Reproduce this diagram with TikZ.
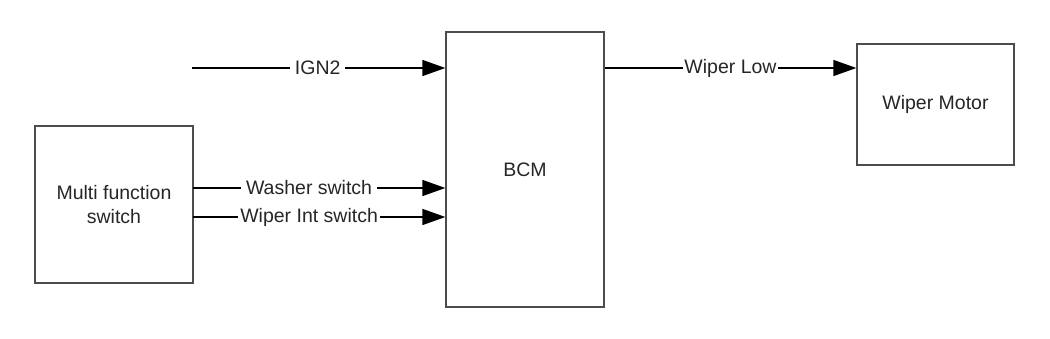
\documentclass[tikz,border=0pt]{standalone}
\usepackage{fontspec}
\setmainfont{Liberation Sans}
\usetikzlibrary{arrows.meta}
\begin{document}
\begin{tikzpicture}[x=1pt,y=-1pt,
  blk/.style={draw=black!70, line width=1.3pt, fill=white, text=black!85, align=center, font=\fontsize{19.5}{24}\selectfont},
  arr/.style={line width=1.5pt, -{Triangle[length=23pt,width=16pt]}},
  lbl/.style={fill=white, text=black!85, inner xsep=5pt, inner ysep=1pt, font=\fontsize{19.5}{24}\selectfont}]
\useasboundingbox (0,0) rectangle (1050,339);
\node[blk, minimum width=158pt, minimum height=157pt] (mfs) at (114,204.5) {Multi function\\switch};
\node[blk, minimum width=158pt, minimum height=275pt] (bcm) at (525,169.5) {BCM};
\node[blk, minimum width=157pt, minimum height=121pt] (wm) at (935.5,104.5) {Wiper Motor};
\coordinate (ign) at (192,68);
\coordinate (wa) at (193,188);
\coordinate (wi) at (193,217);
\draw[arr] (ign) -- (bcm.west |- ign) node[lbl, pos=0.496] {IGN2};
\draw[arr] (wa) -- (bcm.west |- wa) node[lbl, pos=0.46] {Washer switch};
\draw[arr] (wi) -- (bcm.west |- wi) node[lbl, pos=0.46, inner xsep=2pt] {Wiper Int switch};
\draw[arr] (bcm.east |- ign) -- (wm.west |- ign) node[lbl, pos=0.5, inner xsep=1pt] {Wiper Low};
\end{tikzpicture}
\end{document}
